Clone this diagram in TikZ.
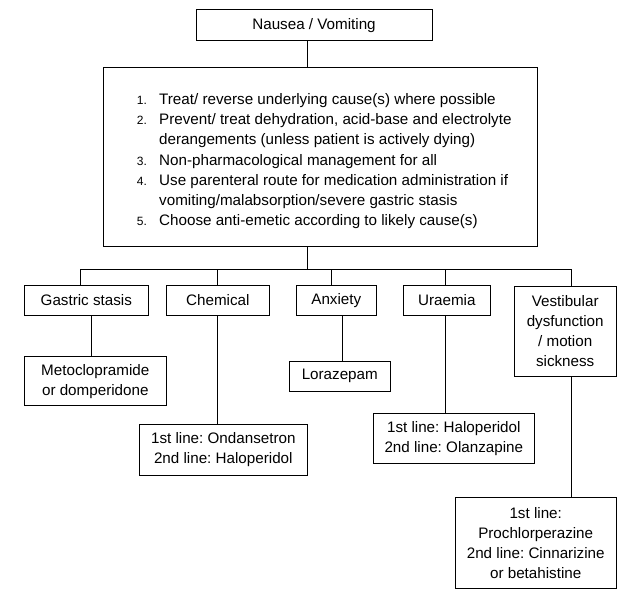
\documentclass[tikz,border=0pt]{standalone}
\usepackage{fontspec}
\setmainfont{Liberation Sans}
\frenchspacing
\begin{document}
\begin{tikzpicture}[x=1pt,y=-1pt,
  box/.style={draw, line width=1pt, inner sep=0pt, align=center,
    font=\fontsize{15.2}{20}\selectfont},
  item/.style={anchor=base west, inner sep=0pt, font=\fontsize{15.2}{20}\selectfont},
  num/.style={anchor=base west, inner sep=0pt, font=\fontsize{12}{15}\selectfont},
  link/.style={line width=1pt}]
\useasboundingbox (0,0) rectangle (636,607);

% boxes
\node[box, minimum width=236, minimum height=30.7] (top) at (314,25.3) {Nausea / Vomiting};
\node[box, minimum width=434, minimum height=178] (plan) at (320,157) {};

\node[num] (n1) at (136.7,104.3) {1.};
\node[item] (t1) at (159,104.3) {Treat/ reverse underlying cause(s) where possible};
\node[num] (n2) at (136.7,124.3) {2.};
\node[item] (t2) at (159,124.3) {Prevent/ treat dehydration, acid-base and electrolyte};
\node[item] (t2b) at (159,144.3) {derangements (unless patient is actively dying)};
\node[num] (n3) at (136.7,165.3) {3.};
\node[item] (t3) at (159,165.3) {Non-pharmacological management for all};
\node[num] (n4) at (136.7,185.3) {4.};
\node[item] (t4) at (159,185.3) {Use parenteral route for medication administration if};
\node[item] (t4b) at (159,205.3) {vomiting/malabsorption/severe gastric stasis};
\node[num] (n5) at (136.7,225.3) {5.};
\node[item] (t5) at (159,225.3) {Choose anti-emetic according to likely cause(s)};

\node[box, minimum width=124, minimum height=30] (gastric) at (86.3,300.3) {Gastric stasis};
\node[box, minimum width=103, minimum height=30] (chemical) at (217.8,300.3) {Chemical};
\node[box, minimum width=80, minimum height=30] (anxiety) at (336.3,300.3) {Anxiety};
\node[box, minimum width=87, minimum height=30] (uraemia) at (446.8,300.3) {Uraemia};
\node[box, minimum width=101.7, minimum height=89.6] (vestib) at (565.2,331.5)
  {Vestibular\\dysfunction\\/ motion\\sickness};

\node[box, minimum width=142, minimum height=49.3] (meto) at (95.3,381.3) {Metoclopramide\\or domperidone};
\node[box, minimum width=168, minimum height=51.3] (ondan) at (223.3,449.7) {1st line: Ondansetron\\2nd line: Haloperidol};
\node[box, minimum width=101, minimum height=30] (loraz) at (339.8,376.3) {Lorazepam};
\node[box, minimum width=161, minimum height=50] (halo) at (453.8,438.3) {1st line: Haloperidol\\2nd line: Olanzapine};
\node[box, minimum width=160.7, minimum height=90.7] (prochlor) at (535.7,542.7)
  {1st line:\\Prochlorperazine\\2nd line: Cinnarizine\\or betahistine};

% connector x positions
\coordinate (trunk) at (307,0);
\coordinate (bus) at (0,269.3);
\coordinate (xg) at (80,0);
\coordinate (xc) at (217.3,0);
\coordinate (xa) at (331.7,0);
\coordinate (xu) at (445.3,0);
\coordinate (xv) at (571.3,0);
\coordinate (xg2) at (91.7,0);
\coordinate (xa2) at (342.3,0);

% connectors
\draw[link] (trunk |- top.south) -- (trunk |- plan.north);
\draw[link] (trunk |- plan.south) -- (trunk |- bus);
\draw[link] (xg |- bus) -- (xv |- bus);
\draw[link] (xg |- bus) -- (xg |- gastric.north);
\draw[link] (xc |- bus) -- (xc |- chemical.north);
\draw[link] (xa |- bus) -- (xa |- anxiety.north);
\draw[link] (xu |- bus) -- (xu |- uraemia.north);
\draw[link] (xv |- bus) -- (xv |- vestib.north);

\draw[link] (xg2 |- gastric.south) -- (xg2 |- meto.north);
\draw[link] (xc |- chemical.south) -- (xc |- ondan.north);
\draw[link] (xa2 |- anxiety.south) -- (xa2 |- loraz.north);
\draw[link] (xu |- uraemia.south) -- (xu |- halo.north);
\draw[link] (xv |- vestib.south) -- (xv |- prochlor.north);
\end{tikzpicture}
\end{document}
